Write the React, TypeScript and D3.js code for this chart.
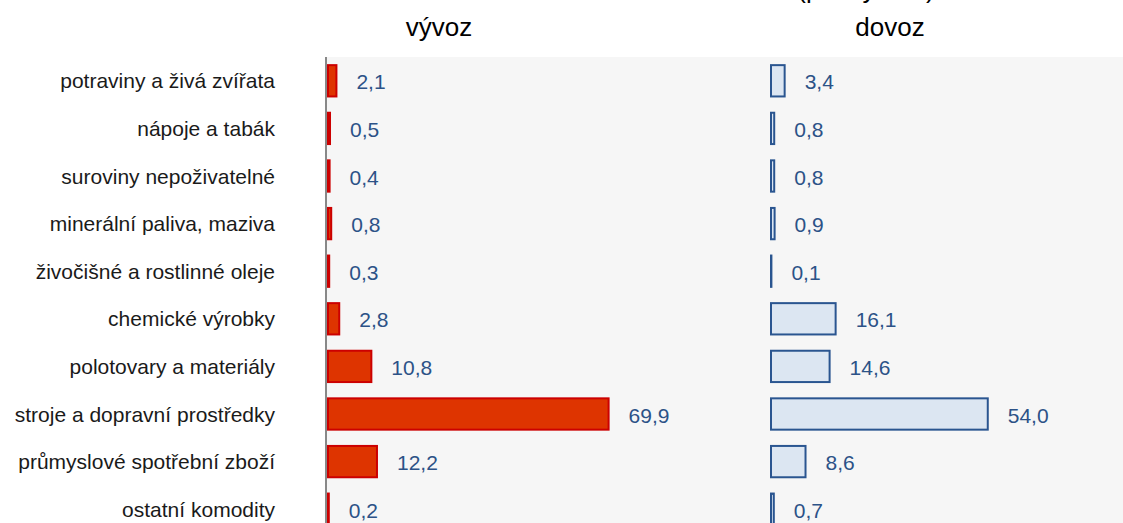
import * as d3 from "d3";

const categories: string[] = [
  "potraviny a živá zvířata",
  "nápoje a tabák",
  "suroviny nepoživatelné",
  "minerální paliva, maziva",
  "živočišné a rostlinné oleje",
  "chemické výrobky",
  "polotovary a materiály",
  "stroje a dopravní prostředky",
  "průmyslové spotřební zboží",
  "ostatní komodity",
];

const vyvoz: number[] = [2.1, 0.5, 0.4, 0.8, 0.3, 2.8, 10.8, 69.9, 12.2, 0.2];
const dovoz: number[] = [3.4, 0.8, 0.8, 0.9, 0.1, 16.1, 14.6, 54.0, 8.6, 0.7];

const seriesTitles = ["vývoz", "dovoz"];
const chartTitle = "(podíly v %)";

const width = 1123;
const height = 523;
const font = "'Liberation Sans', Arial, sans-serif";
const plotTop = 57;
const plotBottom = 533;
const labelColor = "#2c5287";

const fmt = (v: number) => d3.format(".1f")(v).replace(".", ",");

const App = () => {
  const y = d3
    .scaleBand<string>()
    .domain(categories)
    .range([plotTop, plotBottom])
    .paddingInner(0.3)
    .paddingOuter(0.15);

  // both panels share the same px-per-percent
  const xVyvoz = d3.scaleLinear().domain([0, 70]).range([328, 609]);
  const xDovoz = d3.scaleLinear().domain([0, 70]).range([771, 1052]);

  const panels = [
    { values: vyvoz, x: xVyvoz, fill: "#de3400", stroke: "#cc0000", title: seriesTitles[0], cx: 439 },
    { values: dovoz, x: xDovoz, fill: "#dce6f2", stroke: "#2a5590", title: seriesTitles[1], cx: 890 },
  ];

  return (
    <svg
      width={width}
      height={height}
      style={{ position: "absolute", left: 0, top: 0, overflow: "hidden" }}
      fontFamily={font}
    >
      <rect x={0} y={0} width={width} height={height} fill="#ffffff" />
      <rect x={327} y={plotTop} width={width - 327} height={plotBottom - plotTop} fill="#f6f6f6" />

      <text x={866} y={-2} textAnchor="middle" fontSize={26} fill="#000">
        {chartTitle}
      </text>

      {categories.map((c) => (
        <text
          key={c}
          x={275}
          y={(y(c) ?? 0) + y.bandwidth() / 2}
          textAnchor="end"
          dominantBaseline="central"
          fontSize={21}
          fill="#1a1a1a"
        >
          {c}
        </text>
      ))}

      {panels.map((p) => (
        <g key={p.title}>
          <text x={p.cx} y={36} textAnchor="middle" fontSize={26} fill="#000">
            {p.title}
          </text>
          {categories.map((c, i) => {
            const v = p.values[i];
            const x0 = p.x(0);
            return (
              <g key={c}>
                <rect
                  x={x0}
                  y={(y(c) ?? 0) + 1}
                  width={p.x(v) - x0}
                  height={y.bandwidth() - 2}
                  fill={p.fill}
                  stroke={p.stroke}
                  strokeWidth={2}
                />
                <text
                  x={p.x(v) + 20}
                  y={(y(c) ?? 0) + y.bandwidth() / 2 + 1}
                  dominantBaseline="central"
                  fontSize={21}
                  fill={labelColor}
                >
                  {fmt(v)}
                </text>
              </g>
            );
          })}
        </g>
      ))}

      <line x1={326} x2={326} y1={plotTop} y2={plotBottom} stroke="#888888" strokeWidth={2} />
    </svg>
  );
};

export default App;
